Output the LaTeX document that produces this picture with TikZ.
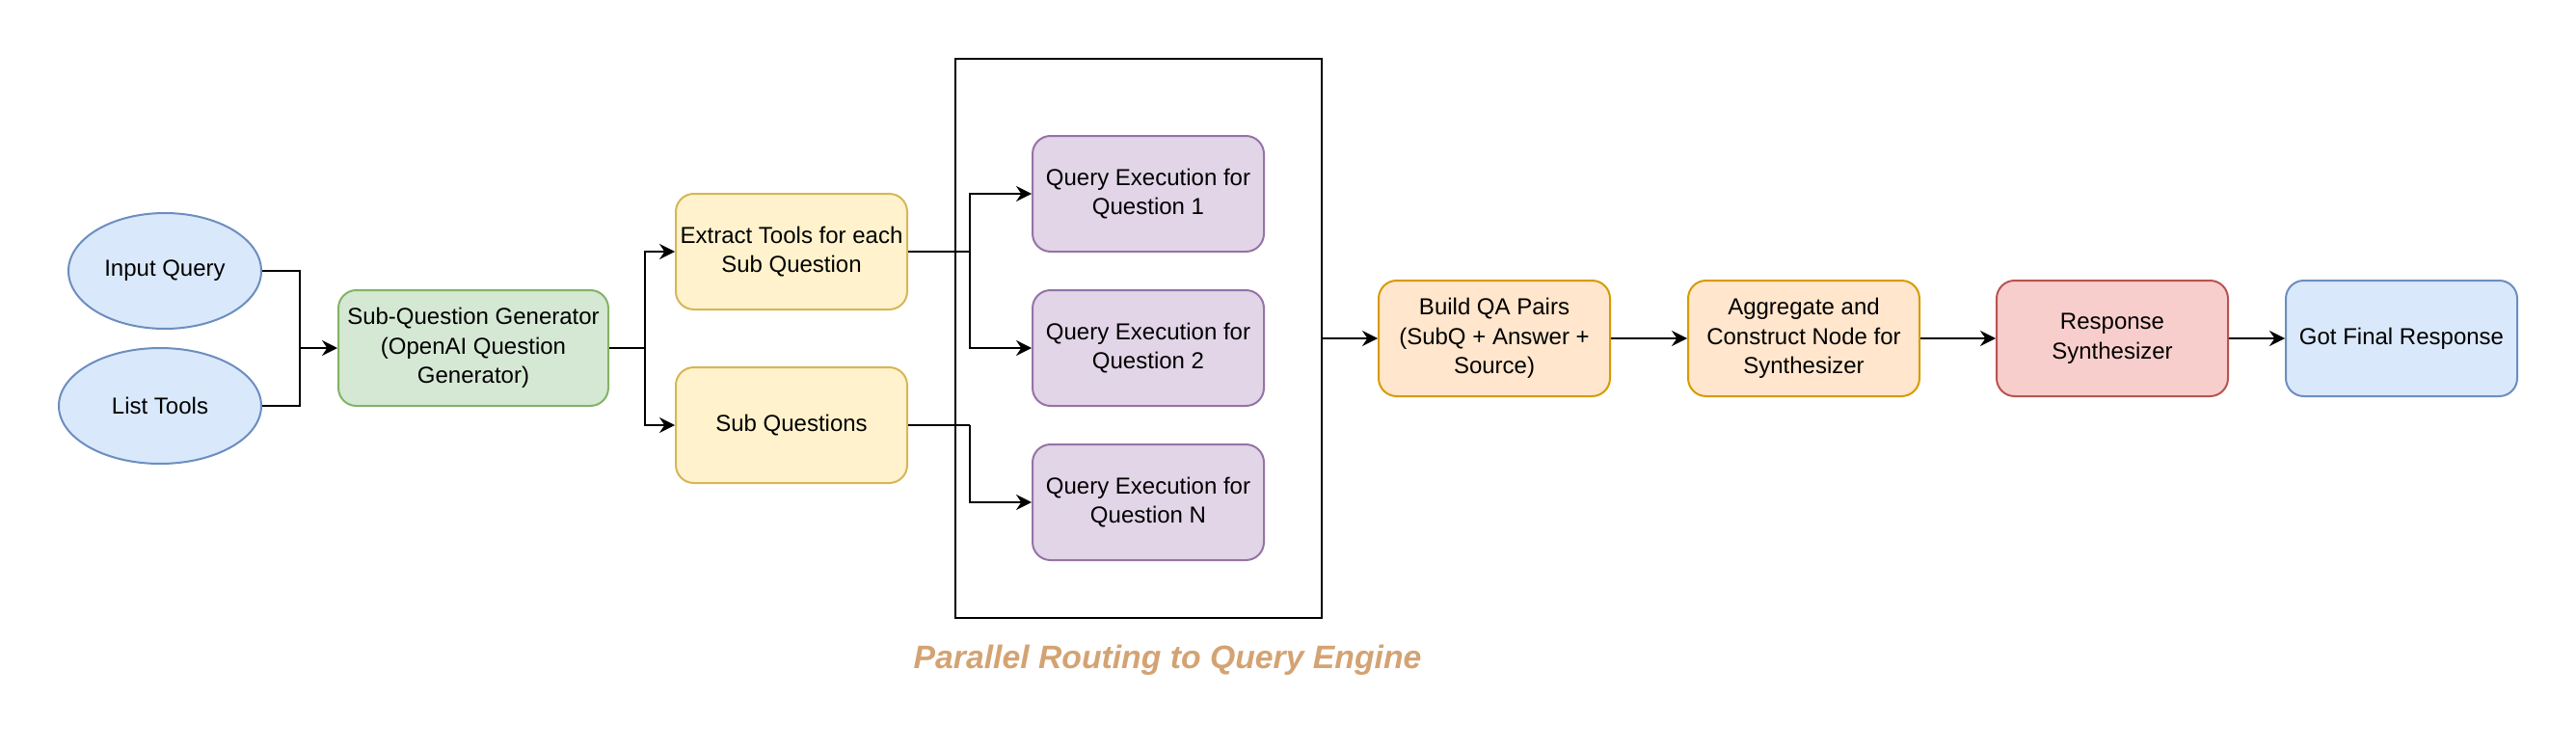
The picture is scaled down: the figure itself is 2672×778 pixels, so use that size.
\documentclass[tikz,border=0pt]{standalone}
\usepackage{fontspec}
\setmainfont{Liberation Sans}
\usetikzlibrary{shapes.geometric,arrows.meta}
\definecolor{bluefill}{HTML}{DAE8FC}\definecolor{bluedraw}{HTML}{6C8EBF}
\definecolor{greenfill}{HTML}{D5E8D4}\definecolor{greendraw}{HTML}{82B366}
\definecolor{yellowfill}{HTML}{FFF2CC}\definecolor{yellowdraw}{HTML}{D6B656}
\definecolor{purplefill}{HTML}{E1D5E7}\definecolor{purpledraw}{HTML}{9673A6}
\definecolor{orangefill}{HTML}{FFE6CC}\definecolor{orangedraw}{HTML}{D79B00}
\definecolor{redfill}{HTML}{F8CECC}\definecolor{reddraw}{HTML}{B85450}
\definecolor{captioncol}{RGB}{212,163,115}
\begin{document}
\begin{tikzpicture}[x=0.75pt,y=-0.75pt,
  txt/.style={font=\fontsize{18}{23}\selectfont, align=center, text=black},
  oval/.style={txt, ellipse, draw=bluedraw, fill=bluefill, line width=1.5pt, inner sep=0pt, minimum height=90pt},
  card/.style={txt, rectangle, rounded corners=14pt, line width=1.5pt, inner sep=0pt, minimum width=180pt, minimum height=90pt},
  conn/.style={line width=1.5pt, draw=black},
  arr/.style={conn, -{Stealth[length=12pt,width=12pt,inset=4pt]}}
]
\useasboundingbox (0,0) rectangle (2672,778);
% left inputs
\node[oval, minimum width=150pt] (iq) at (171,281) {Input Query};
\node[oval, minimum width=157.5pt] (lt) at (166,421) {List Tools};
\node[card, draw=greendraw, fill=greenfill, minimum width=210pt] (sqg) at (491,361) {Sub-Question Generator\\(OpenAI Question\\Generator)};
\node[card, draw=yellowdraw, fill=yellowfill] (ext) at (821,261) {Extract Tools for each\\Sub Question};
\node[card, draw=yellowdraw, fill=yellowfill] (subq) at (821,441) {Sub Questions};
% container
\node[draw=black, line width=1.5pt, rectangle, inner sep=0pt, minimum width=285pt, minimum height=435pt] (cont) at (1181,351) {};
\node[card, draw=purpledraw, fill=purplefill] (q1) at (1191,201) {Query Execution for\\Question 1};
\node[card, draw=purpledraw, fill=purplefill] (q2) at (1191,361) {Query Execution for\\Question 2};
\node[card, draw=purpledraw, fill=purplefill] (qn) at (1191,521) {Query Execution for\\Question N};
% right chain
\node[card, draw=orangedraw, fill=orangefill] (bqa) at (1550,351) {Build QA Pairs\\(SubQ + Answer +\\Source)};
\node[card, draw=orangedraw, fill=orangefill] (agg) at (1871,351) {Aggregate and\\Construct Node for\\Synthesizer};
\node[card, draw=reddraw, fill=redfill] (rs) at (2191,351) {Response\\Synthesizer};
\node[card, draw=bluedraw, fill=bluefill] (gfr) at (2491,351) {Got Final Response};
% caption
\node[font=\fontsize{25.3}{30}\selectfont\bfseries\itshape, text=captioncol] (cap) at (1211,685) {Parallel Routing to Query Engine};
% junctions
\coordinate (j1) at (311,361);
\coordinate (j2) at (669,361);
\coordinate (j3) at (1006,261);
\coordinate (j4) at (1006,441);
% connectors
\draw[conn] (iq.east) -| (j1);
\draw[conn] (lt.east) -| (j1);
\draw[arr] (j1) -- (sqg.west);
\draw[conn] (sqg.east) -- (j2);
\draw[arr] (j2) |- (ext.west);
\draw[arr] (j2) |- (subq.west);
\draw[conn] (ext.east) -- (j3);
\draw[conn] (subq.east) -- (j4);
\draw[arr] (j3) |- (q1.west);
\draw[arr] (j3) |- (q2.west);
\draw[arr] (j4) |- (qn.west);
\draw[arr] (cont.east) -- (bqa.west);
\draw[arr] (bqa.east) -- (agg.west);
\draw[arr] (agg.east) -- (rs.west);
\draw[arr] (rs.east) -- (gfr.west);
\end{tikzpicture}
\end{document}
